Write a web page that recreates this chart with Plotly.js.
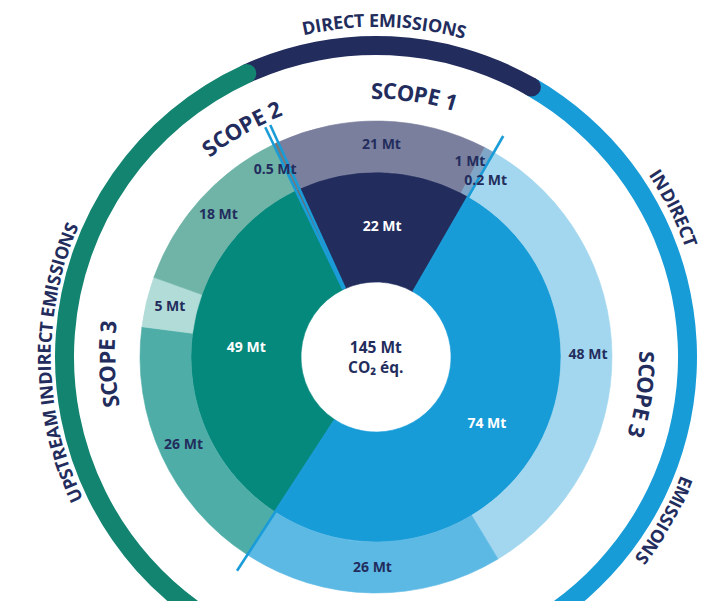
<!DOCTYPE html>
<html><head><meta charset="utf-8">
<script src="https://cdn.plot.ly/plotly-3.0.1.min.js"></script>
<style>
html,body{margin:0;padding:0;background:#fff;overflow:hidden;}
#wrap{width:703px;height:601px;overflow:hidden;position:relative;}
#chart{width:703px;height:679px;}
</style></head><body>
<div id="wrap"><div id="chart"></div></div>
<script>
// ---------------- data ----------------
const scopeGroups = ['Scope 1', 'Scope 3 (downstream)', 'Scope 3 (upstream)', 'Scope 2'];
const scopeValues = [22, 74, 49, 0.5];
const subParents  = [0, 0, 1, 1, 1, 2, 2, 2, 3];
const subValues   = [21, 1, 0.2, 48, 26, 26, 5, 18, 0.5];
const unitLabel   = ' Mt';
const totalLabel  = '145 Mt';
const totalUnit   = 'CO₂ éq.';
const arcGroups   = [[0], [1], [2, 3]];
// visible pieces of each arc title
const arcTitleParts = [['DIRECT EMISSIONS'], ['INDIRECT', 'EMISSIONS'], ['UPSTREAM INDIRECT EMISSIONS']];
const scopeTitles = ['SCOPE 1', 'SCOPE 3', 'SCOPE 3', 'SCOPE 2'];

// ---------------- style ----------------
const NAVY = '#232d5d';
const LINE_BLUE = '#1a9cd8';
const groupColors = ['#222d5e', '#189cd8', '#05897d', '#6a6a6a'];
const subColors   = ['#7a7f9e', '#7fa6c7', '#a3d7ef', '#a3d7ef', '#5cb9e4', '#4eaea7', '#b2dcd8', '#6fb4a7', '#787878'];
const arcColors   = ['#222d5e', '#189cd8', '#138470'];
const innerLabelShown = [true, true, true, false];
// label nudges for crowded small slices: [degrees, radius]
const subLabelNudge = [[0,0],[-2.9,216],[1.8,207],[0,0],[0,0],[0,0],[0,0],[0,0],[-3.3,212]];
// title placement (screen angle clockwise from 12 o'clock, radius px)
const scopeTitlePos = [[8.4, 267], [98, 272], [-91.5, 270], [-30.4, 268]];
const arcTitlePos   = [[[1.4, 337]], [[63.5, 335], [119.5, 334]], [[-91, 332]]];
const FONT = 'Open Sans, Noto Sans, sans-serif';

// ---------------- geometry ----------------
const W = 703, H = 679, ML = 54, MR = 5, MT = 35, MB = 0;
const PW = W - ML - MR, PH = H - MT - MB;
const CX = ML + PW / 2, CY = MT + PH / 2;
const RMAX = PW / 2;
const R_HOLE = 75, R_IN = 185, R_OUT = 236, R_ARC0 = 302, R_ARC1 = 321, R_LINE = 255;
const START = -24.5;

// angular layout derived from values
const total = scopeValues.reduce((a, b) => a + b, 0);
const degPer = 360 / total;
const gStart = [], gEnd = [];
let acc = 0;
scopeValues.forEach(v => { gStart.push(acc); acc += v * degPer; gEnd.push(acc); });
const childSum = scopeValues.map((_, g) => subValues.filter((v, i) => subParents[i] === g).reduce((a, b) => a + b, 0));
const cursor = gStart.slice();
const sStart = [], sEnd = [];
subValues.forEach((v, i) => {
  const g = subParents[i];
  const span = (gEnd[g] - gStart[g]) * v / childSum[g];
  sStart.push(cursor[g]); cursor[g] += span; sEnd.push(cursor[g]);
});
const mid = (a, b) => a.map((s, i) => (s + b[i]) / 2);
const span = (a, b) => a.map((s, i) => b[i] - s);

const traces = [];
// inner ring
traces.push({
  type: 'barpolar', theta: mid(gStart, gEnd), width: span(gStart, gEnd),
  base: R_HOLE, r: scopeValues.map(() => R_IN - R_HOLE),
  marker: { color: groupColors, line: { color: groupColors, width: 0.6 } },
  hoverinfo: 'skip', showlegend: false
});
// outer ring
traces.push({
  type: 'barpolar', theta: mid(sStart, sEnd), width: span(sStart, sEnd),
  base: R_IN, r: subValues.map(() => R_OUT - R_IN),
  marker: { color: subColors, line: { color: subColors, width: 0.6 } },
  hoverinfo: 'skip', showlegend: false
});
// grouping arcs
const arcS = arcGroups.map(gs => gStart[gs[0]]);
const arcE = arcGroups.map(gs => gEnd[gs[gs.length - 1]]);
[1, 0, 2].forEach(k => {
  traces.push({
    type: 'barpolar', theta: [(arcS[k] + arcE[k]) / 2], width: [arcE[k] - arcS[k]],
    base: R_ARC0, r: [R_ARC1 - R_ARC0],
    marker: { color: arcColors[k], line: { width: 0 } },
    hoverinfo: 'skip', showlegend: false
  });
});
// separator lines at scope boundaries
const sepTheta = [gStart[0], gEnd[0], gEnd[1], gStart[3]];
const sepR = [], sepT = [];
sepTheta.forEach(t => { sepR.push(R_HOLE, R_LINE, null); sepT.push(t, t, null); });
traces.push({
  type: 'scatterpolar', mode: 'lines', r: sepR, theta: sepT,
  line: { color: LINE_BLUE, width: 2.6 }, connectgaps: false,
  hoverinfo: 'skip', showlegend: false
});
// rounded caps at clockwise end of each arc
[1, 0, 2].forEach(k => {
  traces.push({
    type: 'scatterpolar', mode: 'markers', r: [(R_ARC0 + R_ARC1) / 2], theta: [arcE[k]],
    marker: { color: arcColors[k], size: R_ARC1 - R_ARC0, line: { width: 0 } },
    hoverinfo: 'skip', showlegend: false
  });
});
// inner labels
const innerIdx = scopeValues.map((v, i) => i).filter(i => innerLabelShown[i]);
traces.push({
  type: 'scatterpolar', mode: 'text',
  r: innerIdx.map(() => 130),
  theta: innerIdx.map(i => (gStart[i] + gEnd[i]) / 2),
  text: innerIdx.map(i => scopeValues[i] + unitLabel),
  textfont: { family: FONT, size: 14, color: '#ffffff', weight: 700 },
  hoverinfo: 'skip', showlegend: false
});
// outer labels
traces.push({
  type: 'scatterpolar', mode: 'text',
  r: subValues.map((v, i) => subLabelNudge[i][1] || 212),
  theta: subValues.map((v, i) => (sStart[i] + sEnd[i]) / 2 + subLabelNudge[i][0]),
  text: subValues.map(v => v + unitLabel),
  textfont: { family: FONT, size: 14, color: NAVY, weight: 700 },
  hoverinfo: 'skip', showlegend: false
});

// curved text helper (per-character annotations along a circle)
const mctx = document.createElement('canvas').getContext('2d');
function curvedText(text, centerDeg, radius, size, color) {
  mctx.font = '700 ' + size + 'px "Open Sans"';
  const chars = Array.from(text);
  const widths = chars.map(c => mctx.measureText(c).width);
  const tot = widths.reduce((a, b) => a + b, 0);
  let pos = -tot / 2;
  const out = [];
  chars.forEach((c, i) => {
    const m = pos + widths[i] / 2; pos += widths[i];
    if (c === ' ') return;
    const a = centerDeg + (m / radius) * 180 / Math.PI;
    const rad = a * Math.PI / 180;
    const px = CX + radius * Math.sin(rad), py = CY - radius * Math.cos(rad);
    out.push({
      xref: 'paper', yref: 'paper', x: (px - ML) / PW, y: 1 - (py - MT) / PH,
      text: c, showarrow: false, textangle: a, xanchor: 'center', yanchor: 'middle',
      font: { family: FONT, size: size, color: color, weight: 700 }
    });
  });
  return out;
}

let annotations = [];
arcTitleParts.forEach((parts, k) => {
  parts.forEach((t, j) => {
    annotations = annotations.concat(curvedText(t, arcTitlePos[k][j][0], arcTitlePos[k][j][1], 18, NAVY));
  });
});
scopeTitles.forEach((t, k) => { annotations = annotations.concat(curvedText(t, scopeTitlePos[k][0], scopeTitlePos[k][1], 22, NAVY)); });
// centre total
annotations.push({ xref: 'paper', yref: 'paper', x: 0.5, y: 1 - (CY - MT) / PH, text: totalLabel + '<br>' + totalUnit, showarrow: false,
  xanchor: 'center', yanchor: 'middle', font: { family: FONT, size: 15.5, color: NAVY, weight: 700 } });

const layout = {
  width: W, height: H,
  margin: { l: ML, r: MR, t: MT, b: MB, pad: 0 },
  paper_bgcolor: '#ffffff',
  showlegend: false, hovermode: false,
  polar: {
    domain: { x: [0, 1], y: [0, 1] },
    bgcolor: 'rgba(0,0,0,0)',
    bargap: 0,
    radialaxis: { range: [0, RMAX], visible: false, showgrid: false },
    angularaxis: { visible: false, showgrid: false, direction: 'clockwise', rotation: 90 - START, thetaunit: 'degrees' }
  },
  annotations: annotations
};
Plotly.newPlot('chart', traces, layout, { staticPlot: true, displayModeBar: false });
</script>
</body></html>
